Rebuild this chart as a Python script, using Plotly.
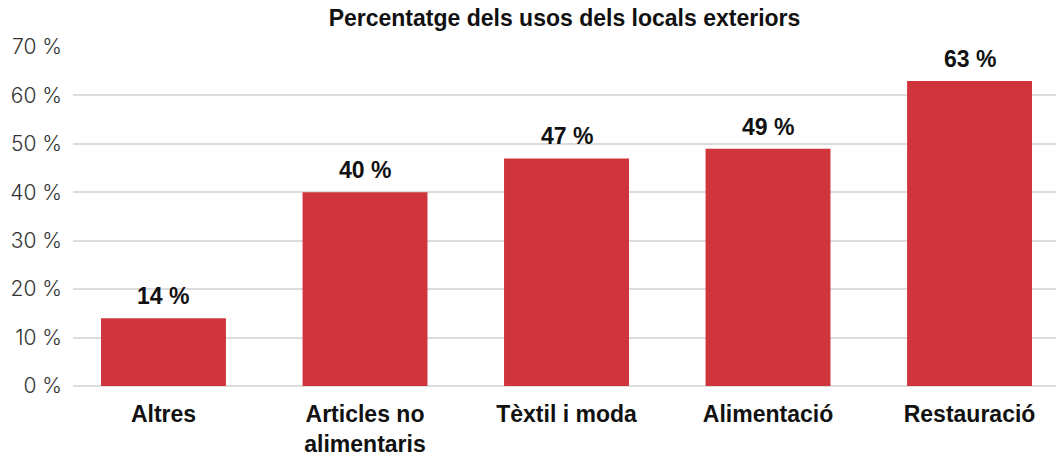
import plotly.graph_objects as go

# Share of exterior premises by use (%)
categories = ["Altres", "Articles no<br>alimentaris", "Tèxtil i moda", "Alimentació", "Restauració"]
values = [14, 40, 47, 49, 63]
y_ticks = [0, 10, 20, 30, 40, 50, 60, 70]
y_tick_labels = [f"{v} %" for v in y_ticks]

bar_color = "#d0353d"
grid_color = "#dcdcdc"
bold_family = "Liberation Sans, Arial, Helvetica, sans-serif"
light_family = "Inter, Liberation Sans, Arial, sans-serif"

fig = go.Figure(
    go.Bar(
        x=list(range(len(categories))),
        y=values,
        width=0.62,
        marker=dict(color=bar_color, line=dict(width=0)),
        cliponaxis=False,
        hoverinfo="skip",
    )
)

# value labels above each bar
for i, v in enumerate(values):
    fig.add_annotation(
        x=i, y=v, text=f"<b>{v} %</b>",
        showarrow=False, xanchor="center", yanchor="bottom", yshift=7,
        font=dict(family=bold_family, size=23, color="#111111"),
    )

fig.update_layout(
    width=1056,
    height=459,
    margin=dict(l=73, r=0, t=47, b=73),
    paper_bgcolor="white",
    plot_bgcolor="white",
    showlegend=False,
    title=dict(
        text="<b>Percentatge dels usos dels locals exteriors</b>",
        x=(73 + 1056) / 2 / 1056,
        xanchor="center",
        y=1 - 18 / 459,
        yanchor="middle",
        font=dict(family=bold_family, size=23, color="#111111"),
    ),
    xaxis=dict(
        range=[-0.449, 4.429],
        tickmode="array",
        tickvals=list(range(len(categories))),
        ticktext=[f"<b>{c}</b>" for c in categories],
        tickfont=dict(family=bold_family, size=23, color="#111111"),
        showgrid=False,
        zeroline=False,
        showline=False,
        ticks="",
        ticklabelstandoff=12,
    ),
    yaxis=dict(
        range=[0, 70],
        tickmode="array",
        tickvals=y_ticks,
        ticktext=y_tick_labels,
        tickfont=dict(family=light_family, size=21, color="#333333", weight=300),
        showgrid=True,
        gridcolor=grid_color,
        gridwidth=1.5,
        zeroline=True,
        zerolinecolor=grid_color,
        zerolinewidth=1.5,
        showline=False,
        ticks="",
        ticklabelstandoff=10,
    ),
)

fig.write_html("out.html")
